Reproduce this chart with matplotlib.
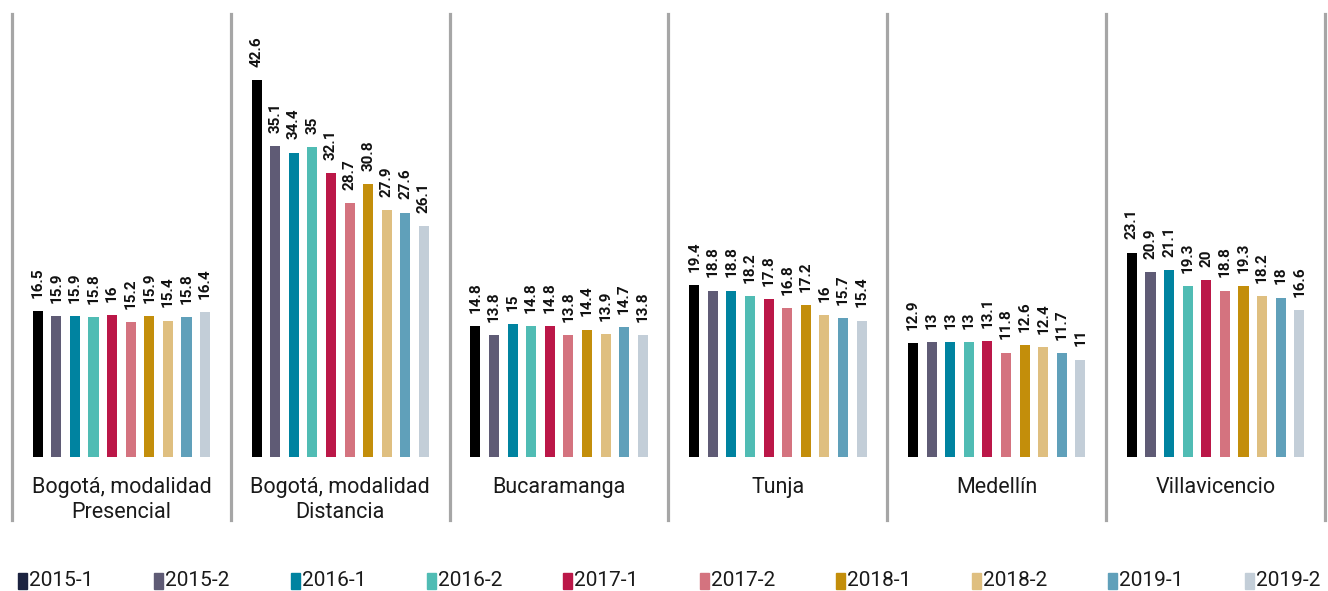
import matplotlib.pyplot as plt
from matplotlib.patches import Rectangle
import numpy as np

plt.rcParams['font.family'] = ['Roboto', 'DejaVu Sans']

cities = ["Bogotá, modalidad\nPresencial", "Bogotá, modalidad\nDistancia",
          "Bucaramanga", "Tunja", "Medellín", "Villavicencio"]
periods = ["2015-1", "2015-2", "2016-1", "2016-2", "2017-1",
           "2017-2", "2018-1", "2018-2", "2019-1", "2019-2"]

bogota_pres = [16.5, 15.9, 15.9, 15.8, 16, 15.2, 15.9, 15.4, 15.8, 16.4]
bogota_dist = [42.6, 35.1, 34.4, 35, 32.1, 28.7, 30.8, 27.9, 27.6, 26.1]
bucaramanga = [14.8, 13.8, 15, 14.8, 14.8, 13.8, 14.4, 13.9, 14.7, 13.8]
tunja = [19.4, 18.8, 18.8, 18.2, 17.8, 16.8, 17.2, 16, 15.7, 15.4]
medellin = [12.9, 13, 13, 13, 13.1, 11.8, 12.6, 12.4, 11.7, 11]
villavicencio = [23.1, 20.9, 21.1, 19.3, 20, 18.8, 19.3, 18.2, 18, 16.6]

colors = ["#000000", "#5f5b75", "#0083a0", "#50bcb4", "#bb1748",
          "#d4737f", "#c38e0b", "#dfbf80", "#60a0ba", "#c3ced8"]
legend_colors = ["#1c2340"] + colors[1:]

series = [bogota_pres, bogota_dist, bucaramanga, tunja, medellin, villavicencio]
vals = np.array(series)  # cities x periods

W, H = 1328, 591
fig = plt.figure(figsize=(W / 100, H / 100), dpi=100)
ax = fig.add_axes([12 / W, 1 - 520 / H, (1325 - 12) / W, (520 - 14) / H])
ax.set_xlim(-0.5, 5.5)
ax.set_ylim(-7.12, 50.06)
ax.axis("off")

step = 0.085
width = 0.046
x = np.arange(len(cities))
for j, p in enumerate(periods):
    xs = x + (j - 4.5) * step
    ax.bar(xs, vals[:, j], width=width, color=colors[j])
    for xi, v in zip(xs, vals[:, j]):
        ax.text(xi, v + 1.5, f"{v:g}", rotation=90, ha="center", va="bottom",
                fontsize=11, fontweight="bold", color="#111111")

for i, c in enumerate(cities):
    ax.text(i, -2.3, c, ha="center", va="top", fontsize=15.5,
            color="#1a1a1a", linespacing=1.25)

for b in np.arange(-0.5, 6, 1):
    ax.axvline(b, color="#a6a6a6", lw=2.3, clip_on=False)

# legend drawn by hand, one swatch + label per period
for j, (c, p) in enumerate(zip(legend_colors, periods)):
    x0 = 18 + 136.3 * j
    fig.patches.append(Rectangle((x0 / W, 1 - 589 / H), 9 / W, 16 / H,
                                 transform=fig.transFigure, color=c))
    fig.text((x0 + 11) / W, 1 - 581 / H, p, ha="left", va="center",
             fontsize=15, color="#1a1a1a")

fig.savefig("out.png", dpi=100)
